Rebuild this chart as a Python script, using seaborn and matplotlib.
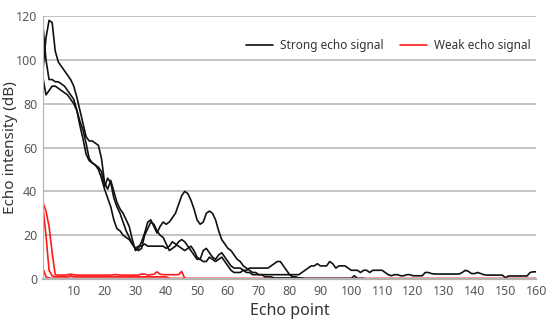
import matplotlib
matplotlib.use("Agg")
import matplotlib.pyplot as plt
from matplotlib.lines import Line2D
import numpy as np
import seaborn as sns

sns.set_style("white")
plt.rcParams['font.family'] = ['Noto Sans', 'DejaVu Sans']

# Strong echo signals (three traces), value per echo point
strong_a = [95, 110, 118, 117, 104, 99, 97, 95, 93, 91,
            88, 83, 77, 71, 65, 63, 63, 62, 61, 55,
            44, 41, 45, 40, 35, 32, 30, 27, 24, 18,
            13, 14, 17, 21, 26, 27, 24, 21, 24, 26,
            25, 26, 28, 30, 34, 38, 40, 39, 36, 32,
            27, 25, 26, 30, 31, 30, 27, 22, 18, 16,
            14, 13, 11, 9, 8, 6, 5, 4, 3, 3,
            2, 2, 2, 2, 2, 2, 2, 2, 2, 2,
            2, 2, 2, 2, 3, 4, 5, 6, 6, 7,
            6, 6, 6, 8, 7, 5, 6, 6, 6, 5,
            4, 4, 4, 3, 4, 4, 3, 4, 4, 4,
            4, 3, 2, 1.5, 2, 2, 1.5, 1.5, 2, 2,
            1.5, 1.5, 1.5, 1.5, 3, 3, 2.5, 2.3, 2.3, 2.3,
            2.3, 2.3, 2.3, 2.3, 2.3, 2.3, 3, 4, 3.5, 2.5,
            2.5, 3, 2.5, 2, 1.8, 1.8, 1.8, 1.8, 1.8, 1.8,
            0.6, 1.4, 1.4, 1.4, 1.4, 1.4, 1.4, 1.4, 3, 3.3,
            3.3]
strong_b = [116, 100, 91, 91, 90, 90, 89, 88, 86, 84,
            82, 77, 70, 64, 57, 54, 53, 52, 50, 46,
            41, 37, 33, 27, 23, 22, 20, 19, 18, 16,
            14, 15, 15, 16, 15, 15, 15, 15, 15, 15,
            14, 15, 17, 16, 15, 14, 13, 14, 15, 13,
            10, 9, 8, 8, 10, 9, 8, 9, 10, 8,
            6, 4, 3, 3, 3, 4, 3, 3, 2, 2,
            2, 2, 1, 1, 1, 0.5, 0.5, 0.5, 0.5, 0.5,
            0.5, 0.5, 0.5]
strong_c = [92, 84, 86, 88, 88, 87, 86, 85, 84, 82,
            80, 77, 72, 68, 62, 55, 53, 52, 51, 49,
            42, 46, 44, 37, 33, 30, 26, 22, 19, 16,
            14, 13, 14, 20, 23, 26, 25, 22, 20, 19,
            16, 13, 14, 15, 17, 18, 17, 15, 13, 11,
            9, 9, 13, 14, 12, 10, 9, 11, 12, 10,
            8, 6, 5, 5, 5, 4, 4, 5, 5, 5,
            5, 5, 5, 5, 6, 7, 8, 8, 6, 4,
            2, 1, 1, 0.5, 0.5, 0.3, 0.3, 0.3, 0.3, 0.3,
            0.3, 0.3, 0.3, 0.3, 0.3, 0.3, 0.3, 0.3, 0.3, 0.3,
            0.3, 1.5, 0.3, 0.3, 0.3]

# Weak echo signals (three traces)
weak_a = [35, 31, 24, 12, 2, 1.8, 1.8, 1.8, 2, 2.2,
          2, 1.8, 1.8, 1.8, 1.8, 1.8, 1.8, 1.8, 1.8, 1.8,
          1.8, 1.8, 1.8, 2, 2, 1.8, 1.8, 1.8, 1.8, 1.8,
          1.8, 1.8, 2.3, 2.3, 1.8, 2, 2.2, 3.3, 2.2, 2,
          2, 2, 2, 2, 2, 3.5, 0.3]
weak_b = [33, 20, 4, 1.5, 1, 1, 1, 1, 1, 1.5,
          1, 1, 1, 1, 1, 1, 1, 1, 1, 1,
          1, 1, 1, 1, 1, 1, 1, 1, 1, 1,
          1, 1, 1, 1, 1, 1, 1, 1, 1, 1,
          1, 0.3]
weak_c = [5, 1, 0.5] + [0.3] * 158

strong_series = [strong_a, strong_b, strong_c]
weak_series = [weak_a, weak_b, weak_c]

black = "#111111"
red = "#ff1a1a"
grid_grey = "#b4b4b4"
text_grey = "#595959"

fig, ax = plt.subplots(figsize=(5.5, 3.26), dpi=100)
fig.subplots_adjust(left=0.078, right=0.975, bottom=0.144, top=0.951)

for s in weak_series:
    sns.lineplot(x=np.arange(len(s)), y=s, ax=ax, color=red, lw=1.2)
for s in strong_series:
    sns.lineplot(x=np.arange(len(s)), y=s, ax=ax, color=black, lw=1.2)

ax.set_xlim(0, 160)
ax.set_ylim(0, 120)
ax.set_xticks(range(10, 161, 10))
ax.set_yticks(range(0, 121, 20))
ax.yaxis.grid(True, color=grid_grey, lw=1.1)
ax.set_axisbelow(True)
for side in ['top', 'right']:
    ax.spines[side].set_visible(False)
ax.spines['left'].set_color(grid_grey)
ax.spines['bottom'].set_color(grid_grey)
ax.spines['bottom'].set_linewidth(1.6)
ax.tick_params(length=0, labelsize=9, colors=text_grey, pad=4)

ax.set_xlabel('Echo point', fontsize=11.5, color='#333333', labelpad=4)
ax.set_ylabel('Echo intensity (dB)', fontsize=11, color='#333333')
ax.yaxis.set_label_coords(-0.05, 0.5)

handles = [Line2D([], [], color=black, lw=1.2),
           Line2D([], [], color=red, lw=1.2)]
ax.legend(handles, ['Strong echo signal', 'Weak echo signal'],
          loc='center left', bbox_to_anchor=(0.39, 0.886), ncol=2,
          frameon=False, fontsize=8.5, handlelength=2.3, handletextpad=0.6,
          columnspacing=1.35, labelcolor='#333333')

plt.savefig("out.png", dpi=100)
